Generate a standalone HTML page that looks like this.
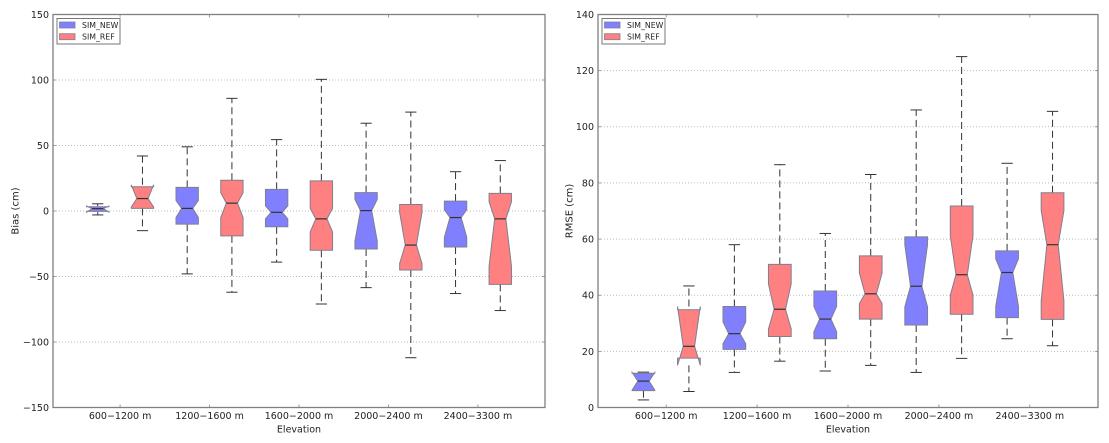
<!DOCTYPE html>
<html lang="en">
<head>
<meta charset="utf-8">
<title>Bias and RMSE by elevation</title>
<style>
html,body{margin:0;padding:0;background:#fff;width:1109px;height:443px;overflow:hidden}
svg{display:block;filter:blur(0.35px)}
text{font-family:"DejaVu Sans","Liberation Sans",sans-serif;fill:#222}
</style>
</head>
<body>
<svg id="chart" xmlns="http://www.w3.org/2000/svg" width="1109" height="443" viewBox="0 0 1109 443"></svg>
<script>
// Categories and tick labels
const categories = ["600\u22121200 m", "1200\u22121600 m", "1600\u22122000 m", "2000\u22122400 m", "2400\u22123300 m"];
const seriesNames = ["SIM_NEW", "SIM_REF"];
const seriesColors = ["#8080ff", "#ff8080"];
const biasTicks = [-150, -100, -50, 0, 50, 100, 150];
const rmseTicks = [0, 20, 40, 60, 80, 100, 120, 140];

// Bias: values alternate SIM_NEW, SIM_REF for each category
const biasLow = [-3, -15, -48, -62, -39, -71, -58.5, -112, -63, -76];
const biasQ1 = [-0.3, 2, -10, -19, -12, -30, -29, -45, -27.5, -56];
const biasNotchLow = [-0.8, 3, -5, -5, -6, -16, -23, -40, -20, -42];
const biasMedian = [1.8, 9.5, 2, 6, -1, -6, 0.3, -26, -5, -6];
const biasNotchHigh = [3.8, 20, 8, 14, 4, 2, 9, -1, 1, 7];
const biasQ3 = [3.2, 18.5, 18, 23.5, 16.5, 23, 14, 5, 7.5, 13.5];
const biasHigh = [5.5, 42, 49, 86, 54.5, 100.5, 67, 75.5, 30, 38.5];

// RMSE: values alternate SIM_NEW, SIM_REF for each category
const rmseLow = [2.7, 5.7, 12.5, 16.5, 13, 15, 12.5, 17.5, 24.5, 22];
const rmseQ1 = [6, 17.6, 20.7, 25.3, 24.5, 31.5, 29.4, 33.2, 32, 31.4];
const rmseNotchLow = [6.2, 15, 22.7, 28, 27, 37, 35.8, 40, 36, 38];
const rmseMedian = [9.4, 21.8, 26.3, 35, 31.5, 40.5, 43.2, 47.3, 48.1, 58];
const rmseNotchHigh = [12.5, 36, 30.5, 44, 36, 48, 58, 61.3, 53, 70.2];
const rmseQ3 = [12.2, 34.8, 36, 51, 41.5, 54, 60.8, 71.8, 55.8, 76.5];
const rmseHigh = [12.6, 43.3, 58, 86.5, 62, 83, 106, 125, 87, 105.5];

const SVG_NS = "http://www.w3.org/2000/svg";
const root = document.getElementById("chart");

function el(parent, tag, attrs, content) {
  const node = document.createElementNS(SVG_NS, tag);
  for (const key in attrs) node.setAttribute(key, attrs[key]);
  if (content !== undefined) node.textContent = content;
  parent.appendChild(node);
  return node;
}

function formatTick(v) {
  return v < 0 ? "\u2212" + Math.abs(v) : String(v);
}

function drawPanel(p) {
  const g = el(root, "g", {});
  
  

  // Axis functions: categories sit at 1..n on an x range of 0.25..n+0.75
  const n = categories.length;
  const xScale = v => p.left + (v - 0.25) / (n + 0.5) * (p.right - p.left);
  const ymin = p.yTicks[0];
  const ymax = p.yTicks[p.yTicks.length - 1];
  const yScale = v => p.bottom - (v - ymin) / (ymax - ymin) * (p.bottom - p.top);

  // Horizontal gridlines and y ticks
  p.yTicks.forEach(t => {
    const y = yScale(t);
    if (t !== ymin && t !== ymax) {
      const grid = el(g, "line", {x1: p.left, x2: p.right, y1: y, y2: y, stroke: "#bbb", "stroke-width": 1, "stroke-dasharray": "1 2"});
      
      
    }
    el(g, "line", {x1: p.left, x2: p.left + 3, y1: y, y2: y, stroke: "#888", "stroke-width": 0.8});
    el(g, "line", {x1: p.right - 3, x2: p.right, y1: y, y2: y, stroke: "#888", "stroke-width": 0.8});
    const label = el(g, "text", {x: p.left - 4, y: y + 3.4, "text-anchor": "end", "font-size": 9.5}, formatTick(t));
    
    
  });

  // Category ticks
  categories.forEach((c, i) => {
    const x = xScale(i + 1);
    el(g, "line", {x1: x, x2: x, y1: p.bottom, y2: p.bottom - 3, stroke: "#888", "stroke-width": 0.8});
    el(g, "line", {x1: x, x2: x, y1: p.top, y2: p.top + 3, stroke: "#888", "stroke-width": 0.8});
    const label = el(g, "text", {x: x, y: p.bottom + 11.5, "text-anchor": "middle", "font-size": 9.5}, c);
    
    
  });

  // Box-and-whisker marks
  p.median.forEach((m, i) => {
    const cat = Math.floor(i / 2);
    const series = i % 2;
    const pos = cat + 1 + (series === 0 ? -0.25 : 0.25);
    const cx = xScale(pos);
    const hw = xScale(pos + 0.125) - cx;
    const nw = hw * 0.5;
    const capW = hw * 0.5;
    const box = el(g, "g", {});
    
    

    const q1 = yScale(p.q1[i]), q3 = yScale(p.q3[i]), med = yScale(m);
    const nl = yScale(p.notchLow[i]), nh = yScale(p.notchHigh[i]);
    const lo = yScale(p.low[i]), hi = yScale(p.high[i]);
    const dash = {stroke: "#333", "stroke-width": 1, "stroke-dasharray": "7 4"};
    el(box, "line", Object.assign({x1: cx, x2: cx, y1: Math.min(q3, nh), y2: hi}, dash));
    el(box, "line", Object.assign({x1: cx, x2: cx, y1: Math.max(q1, nl), y2: lo}, dash));
    el(box, "line", {x1: cx - capW, x2: cx + capW, y1: hi, y2: hi, stroke: "#333", "stroke-width": 1});
    el(box, "line", {x1: cx - capW, x2: cx + capW, y1: lo, y2: lo, stroke: "#333", "stroke-width": 1});

    const pts = [
      [cx - hw, q1], [cx + hw, q1], [cx + hw, nl], [cx + nw, med], [cx + hw, nh],
      [cx + hw, q3], [cx - hw, q3], [cx - hw, nh], [cx - nw, med], [cx - hw, nl]
    ];
    el(box, "polygon", {points: pts.map(q => q.join(",")).join(" "), fill: seriesColors[series], stroke: "#7f7f8f", "stroke-width": 1});
    el(box, "line", {x1: cx - nw, x2: cx + nw, y1: med, y2: med, stroke: "#333", "stroke-width": 1.2});
  });

  // Axes frame
  const frame = el(g, "rect", {x: p.left, y: p.top, width: p.right - p.left, height: p.bottom - p.top, fill: "none", stroke: "#808080", "stroke-width": 1.3});
  
  

  // Axis titles
  const xTitle = el(g, "text", {x: (p.left + p.right) / 2, y: p.bottom + 25, "text-anchor": "middle", "font-size": 9.5}, "Elevation");
  
  
  const yMid = (p.top + p.bottom) / 2;
  const yTitle = el(g, "text", {x: p.yTitleX, y: yMid, "text-anchor": "middle", "font-size": 10, transform: "rotate(-90 " + p.yTitleX + " " + yMid + ")"}, p.yTitle);
  
  

  // Legend
  const legend = el(g, "g", {});
  
  
  const lx = p.left + 4;
  el(legend, "rect", {x: lx, y: p.top + 4, width: 63, height: 25.5, fill: "#fff", stroke: "#777", "stroke-width": 1});
  seriesNames.forEach((s, i) => {
    const entry = el(legend, "g", {});
    
    
    const rowY = p.top + 7.5 + i * 11.7;
    el(entry, "rect", {x: lx + 2.5, y: rowY, width: 15.5, height: 6, fill: seriesColors[i], stroke: "#7f7f8f", "stroke-width": 0.8});
    el(entry, "text", {x: lx + 25, y: rowY + 6, "font-size": 7.8}, s);
  });
}

drawPanel({
  name: "bias", yTitle: "Bias (cm)", yTitleX: 18.5,
  left: 53, right: 545, top: 14.5, bottom: 407.5, yTicks: biasTicks,
  low: biasLow, q1: biasQ1, notchLow: biasNotchLow, median: biasMedian,
  notchHigh: biasNotchHigh, q3: biasQ3, high: biasHigh
});
drawPanel({
  name: "rmse", yTitle: "RMSE (cm)", yTitleX: 572.5,
  left: 598, right: 1098, top: 14.5, bottom: 407.5, yTicks: rmseTicks,
  low: rmseLow, q1: rmseQ1, notchLow: rmseNotchLow, median: rmseMedian,
  notchHigh: rmseNotchHigh, q3: rmseQ3, high: rmseHigh
});
</script>
</body>
</html>
